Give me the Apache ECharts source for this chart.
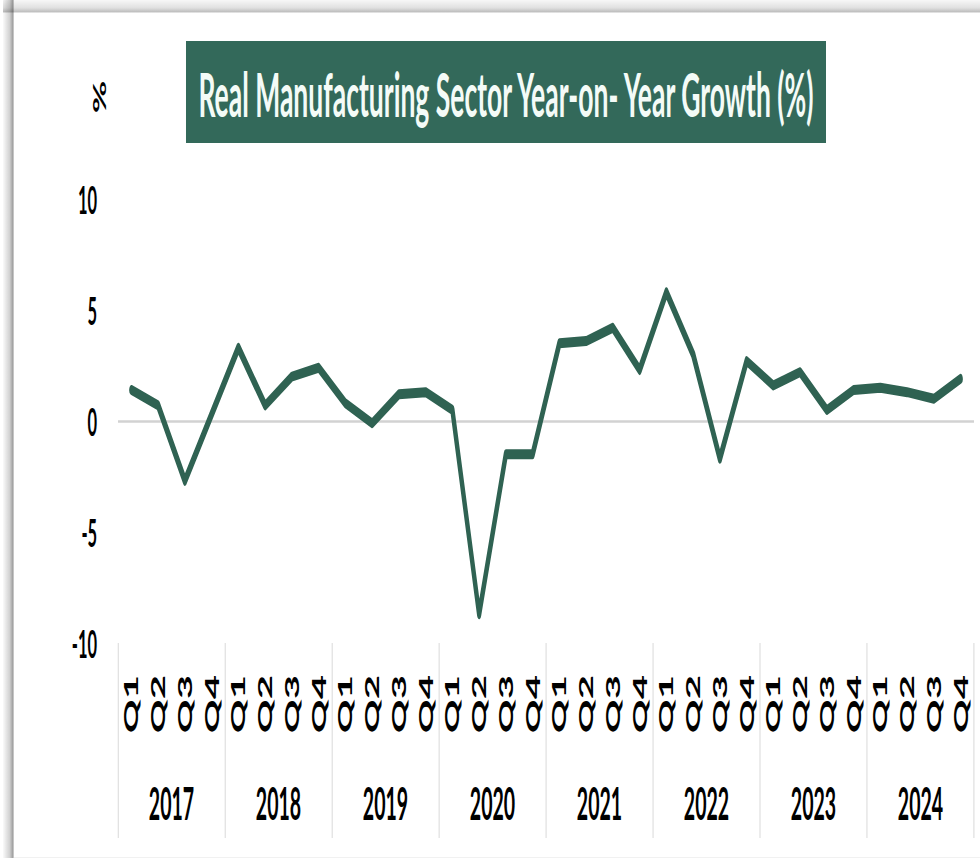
<!DOCTYPE html>
<html>
<head>
<meta charset="utf-8">
<title>Real Manufacturing Sector Year-on- Year Growth (%)</title>
<script src="https://cdn.jsdelivr.net/npm/echarts@6/dist/echarts.min.js"></script>
<style>
  html, body { margin: 0; padding: 0; background: #ffffff; overflow: hidden; }
  #frame { width: 980px; height: 862px; overflow: hidden; position: relative; }
  #chart { position: absolute; left: 0; top: 0; height: 862px; transform-origin: 0 0; }
</style>
</head>
<body>
<div id="frame"><div id="chart"></div></div>
<script>
// ---- data ----------------------------------------------------------------
const years = ['2017', '2018', '2019', '2020', '2021', '2022', '2023', '2024'];
const quarters = ['Q1', 'Q2', 'Q3', 'Q4'];

// real manufacturing output, % change on the same quarter a year earlier
const growth2017 = [1.4, 0.7, -2.7, 0.3];
const growth2018 = [3.3, 0.7, 2.0, 2.4];
const growth2019 = [0.8, -0.1, 1.2, 1.3];
const growth2020 = [0.5, -8.7, -1.5, -1.5];
const growth2021 = [3.5, 3.6, 4.2, 2.3];
const growth2022 = [5.8, 3.0, -1.7, 2.7];
const growth2023 = [1.6, 2.2, 0.5, 1.4];
const growth2024 = [1.5, 1.3, 1.0, 1.9];

const yMin = -10;
const yMax = 10;
const yStep = 5;

const titleText = 'Real Manufacturing Sector Year-on- Year Growth (%)';
const unitText = '%';

// ---- derived series ------------------------------------------------------
const growthByYear = [growth2017, growth2018, growth2019, growth2020,
                      growth2021, growth2022, growth2023, growth2024];
const periods = [];
const growth = [];
years.forEach((y, i) => {
  quarters.forEach((q, j) => {
    periods.push(y + '-' + q);
    growth.push(growthByYear[i][j]);
  });
});

// ---- layout --------------------------------------------------------------
// The chart is laid out on a wide surface and squeezed horizontally with CSS,
// which gives the tall, condensed lettering and line weights.
const SX = 2.3;
const W = 980 * SX;
const H = 862;
const X = v => v * SX;

const FONT = 'Lato, "Open Sans", "Liberation Sans", sans-serif';
const GREEN = '#2f6252';
const BANNER = '#33695a';
const RULE = '#d9d9d9';

const el = document.getElementById('chart');
el.style.width = W + 'px';
el.style.transform = 'scaleX(' + (1 / SX) + ')';

const chart = echarts.init(el, null, { renderer: 'svg', width: W, height: H });

const zeroLineColors = [];
for (let v = yMin; v <= yMax; v += yStep) {
  zeroLineColors.push(v === 0 ? '#d2d2d2' : 'rgba(0,0,0,0)');
}

const option = {
  animation: false,
  backgroundColor: '#ffffff',
  grid: { left: X(118), right: X(6), top: 199, bottom: 219 },
  xAxis: [
    {
      type: 'category',
      data: periods,
      boundaryGap: true,
      axisLine: { show: false },
      axisTick: { show: false },
      splitLine: { show: false },
      axisLabel: {
        interval: 0,
        rotate: 90,
        margin: 32,
        color: '#000000',
        fontFamily: FONT,
        fontWeight: 'bold',
        fontSize: 42,
        formatter: v => v.split('-')[1]
      }
    },
    {
      type: 'category',
      data: years,
      position: 'bottom',
      boundaryGap: true,
      axisLine: { show: false },
      axisTick: { show: true, length: 195, lineStyle: { color: RULE, width: 2.3 } },
      splitLine: { show: false },
      axisLabel: {
        interval: 0,
        margin: 137,
        color: '#000000',
        fontFamily: FONT,
        fontWeight: 'bold',
        fontSize: 45
      }
    }
  ],
  yAxis: {
    type: 'value',
    min: yMin,
    max: yMax,
    interval: yStep,
    axisLine: { show: false },
    axisTick: { show: false },
    axisLabel: {
      margin: 48,
      color: '#000000',
      fontFamily: FONT,
      fontWeight: 'bold',
      fontSize: 38
    },
    splitLine: { show: true, lineStyle: { color: zeroLineColors, width: 2.5 } }
  },
  series: [
    {
      type: 'line',
      xAxisIndex: 0,
      data: growth,
      symbol: 'none',
      smooth: false,
      lineStyle: { color: GREEN, width: 10, join: 'round', cap: 'round' },
      z: 5
    }
  ],
  graphic: [
    // shaded page edge along the left and top
    {
      type: 'rect',
      shape: { x: X(3), y: 0, width: X(11), height: 858 },
      style: {
        fill: new echarts.graphic.LinearGradient(0, 0, 1, 0, [
          { offset: 0, color: 'rgba(0,0,0,0.02)' },
          { offset: 0.6, color: 'rgba(0,0,0,0.18)' },
          { offset: 0.9, color: 'rgba(0,0,0,0.38)' },
          { offset: 1, color: 'rgba(0,0,0,0.10)' }
        ])
      },
      silent: true
    },
    {
      type: 'rect',
      shape: { x: X(3), y: 0, width: W, height: 13 },
      style: {
        fill: new echarts.graphic.LinearGradient(0, 0, 0, 1, [
          { offset: 0, color: 'rgba(0,0,0,0.03)' },
          { offset: 0.6, color: 'rgba(0,0,0,0.12)' },
          { offset: 0.9, color: 'rgba(0,0,0,0.25)' },
          { offset: 1, color: 'rgba(0,0,0,0.04)' }
        ])
      },
      silent: true
    },
    {
      type: 'line',
      shape: { x1: X(14), y1: 857.5, x2: W, y2: 857.5 },
      style: { stroke: 'rgba(0,0,0,0.08)', lineWidth: 1 },
      silent: true
    },
    // title banner
    {
      type: 'rect',
      shape: { x: X(186), y: 41, width: X(640), height: 102 },
      style: { fill: BANNER },
      silent: true
    },
    {
      type: 'text',
      x: X(506),
      y: 94,
      style: {
        text: titleText,
        fill: '#f4fbf7',
        fontFamily: FONT,
        fontWeight: 'bold',
        fontSize: 61,
        align: 'center',
        verticalAlign: 'middle',
        textAlign: 'center',
        textVerticalAlign: 'middle'
      },
      silent: true
    },
    // unit label above the value axis
    {
      type: 'text',
      x: X(99.5),
      y: 97,
      rotation: Math.PI / 2,
      style: {
        text: unitText,
        fill: '#000000',
        fontFamily: FONT,
        fontWeight: 'bold',
        fontSize: 40,
        align: 'center',
        verticalAlign: 'middle',
        textAlign: 'center',
        textVerticalAlign: 'middle'
      },
      silent: true
    }
  ]
};

chart.setOption(option);
</script>
</body>
</html>
